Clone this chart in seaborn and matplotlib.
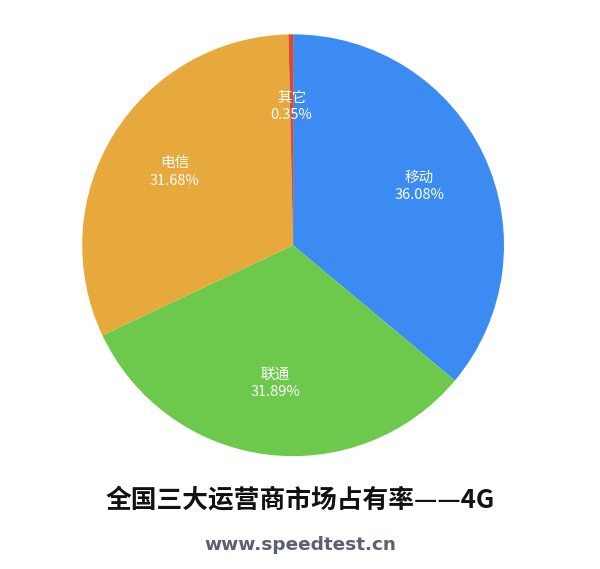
import matplotlib
matplotlib.use("Agg")
import matplotlib.pyplot as plt
import seaborn as sns

sns.set_theme(style="white")
plt.rcParams['font.family'] = ['Noto Sans CJK SC', 'DejaVu Sans']

categories = ["移动", "联通", "电信", "其它"]
shares = [36.08, 31.89, 31.68, 0.35]
colors = ["#3b8bf2", "#6cc94c", "#e8a93c", "#e2472b"]

fig = plt.figure(figsize=(6, 5.69), dpi=100)
ax = fig.add_axes([0.135, 0.1965, 0.707, 0.745])
labels = [f"{c}\n{v:.2f}%" for c, v in zip(categories, shares)]
wedges, texts = ax.pie(shares, colors=colors, startangle=90, counterclock=False,
                       labels=labels, labeldistance=0.66,
                       wedgeprops=dict(linewidth=0),
                       textprops=dict(color="white", fontsize=10.5, ha="center", va="center",
                                      linespacing=1.3))
ax.set_aspect("equal")
ax.set_xlim(-1.005, 1.005)
ax.set_ylim(-1.005, 1.005)

fig.text(0.5, 0.121, "全国三大运营商市场占有率——4G", ha="center", va="center",
         fontsize=18.5, fontweight="bold", color="#111111")
fig.text(0.5, 0.042, "www.speedtest.cn", ha="center", va="center",
         fontsize=13.3, fontweight="bold", color="#5b6170", family=["DejaVu Sans"])
fig.savefig("out.png", dpi=100, facecolor="white")
